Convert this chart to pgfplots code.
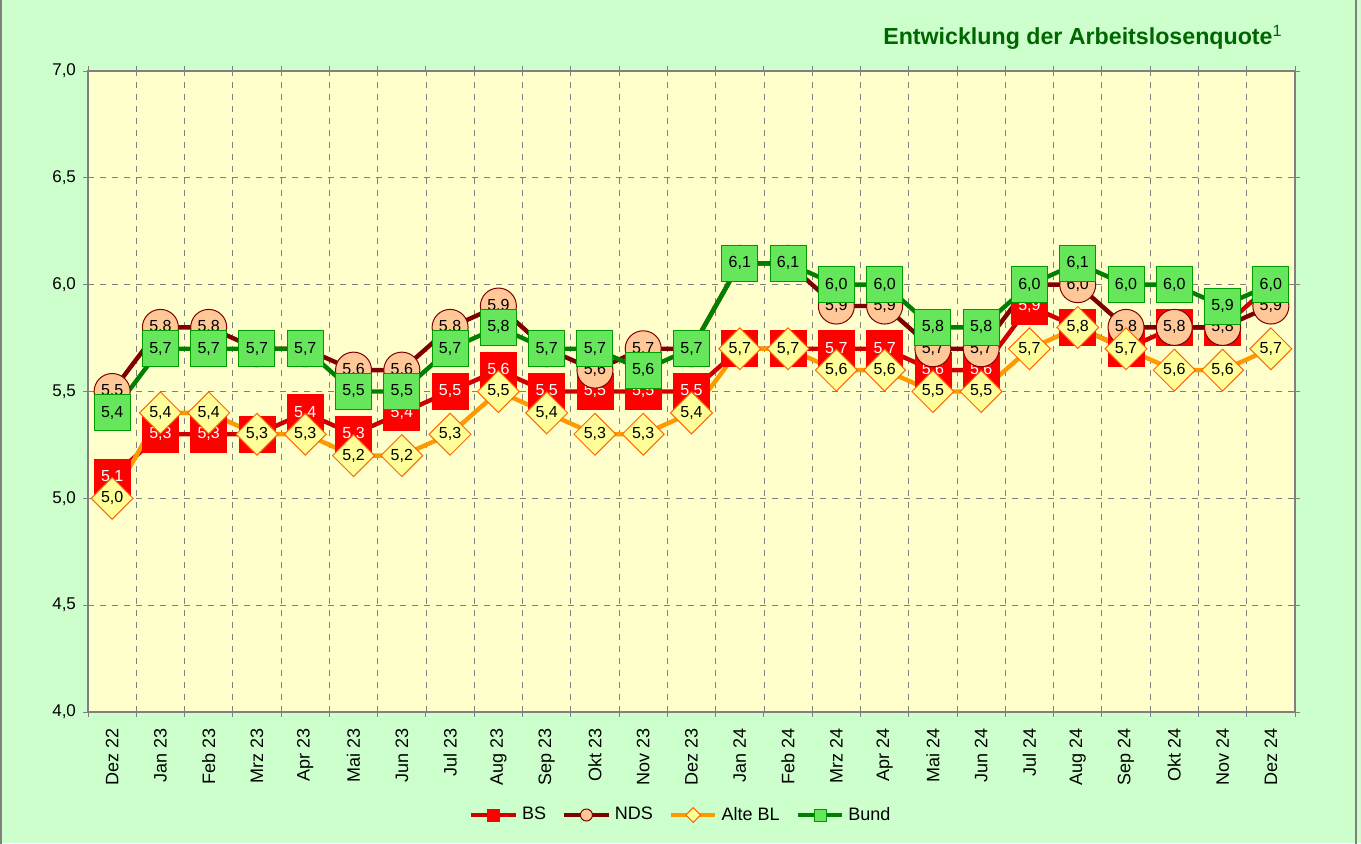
\documentclass[border=0pt]{standalone}
\usepackage{pgfplots}
\usepackage{pgfplotstable}
\pgfplotsset{compat=1.18}
\usepackage{fontspec}
\setmainfont{Liberation Sans}
\definecolor{bgout}{HTML}{CCFFCC}
\definecolor{bgplot}{HTML}{FFFFCC}
\definecolor{bsline}{HTML}{CC0000}
\definecolor{bsfill}{HTML}{FF0000}
\definecolor{ndsline}{HTML}{800000}
\definecolor{ndsfill}{HTML}{FFC896}
\definecolor{altline}{HTML}{FF9900}
\definecolor{altfill}{HTML}{FFFF99}
\definecolor{altedge}{HTML}{FF6600}
\definecolor{bundline}{HTML}{008000}
\definecolor{bundfill}{HTML}{66E65A}
\definecolor{bundedge}{HTML}{009900}
\definecolor{titlegreen}{HTML}{006600}
\definecolor{gridgray}{HTML}{808080}

\pgfplotstableread{
x bs nds alt bund
0 5.1 5.5 5.0 5.4
1 5.3 5.8 5.4 5.7
2 5.3 5.8 5.4 5.7
3 5.3 5.7 5.3 5.7
4 5.4 5.7 5.3 5.7
5 5.3 5.6 5.2 5.5
6 5.4 5.6 5.2 5.5
7 5.5 5.8 5.3 5.7
8 5.6 5.9 5.5 5.8
9 5.5 5.7 5.4 5.7
10 5.5 5.6 5.3 5.7
11 5.5 5.7 5.3 5.6
12 5.5 5.7 5.4 5.7
13 5.7 6.1 5.7 6.1
14 5.7 6.1 5.7 6.1
15 5.7 5.9 5.6 6.0
16 5.7 5.9 5.6 6.0
17 5.6 5.7 5.5 5.8
18 5.6 5.7 5.5 5.8
19 5.9 6.0 5.7 6.0
20 5.8 6.0 5.8 6.1
21 5.7 5.8 5.7 6.0
22 5.8 5.8 5.6 6.0
23 5.8 5.8 5.6 5.9
24 6.0 5.9 5.7 6.0
}\datatable

\begin{document}
\begin{tikzpicture}
\fill[bgout] (0,0) rectangle (680.5pt,421.5pt);
\draw[gridgray, line width=0.8pt] (0.6pt,-1pt) -- (0.6pt,423pt);
\draw[gridgray, line width=0.8pt] (678pt,-1pt) -- (678pt,423pt);
\begin{axis}[
  at={(44pt,65.5pt)}, anchor=south west,
  scale only axis, width=603.5pt, height=320.5pt,
  clip=false,
  xmin=-0.5, xmax=24.5, ymin=4, ymax=7,
  xtick={0,...,24},
  xticklabels={Dez 22,Jan 23,Feb 23,Mrz 23,Apr 23,Mai 23,Jun 23,Jul 23,Aug 23,Sep 23,Okt 23,Nov 23,Dez 23,Jan 24,Feb 24,Mrz 24,Apr 24,Mai 24,Jun 24,Jul 24,Aug 24,Sep 24,Okt 24,Nov 24,Dez 24},
  minor xtick={-0.5,0.5,...,24.5},
  ytick={4,4.5,...,7},
  ymajorgrids=true, xminorgrids=true,
  major grid style={dashed, gridgray, line width=0.4pt},
  minor grid style={dashed, gridgray, line width=0.4pt},
  tick align=outside,
  major x tick style={draw=none},
  minor tick length=2.5pt, major tick length=2.5pt,
  tick style={gridgray, line width=0.5pt},
  axis line style={draw=gridgray, line width=1.2pt},
  axis background/.style={fill=bgplot},
  xticklabel style={rotate=90, anchor=east, font=\fontsize{9}{10}\selectfont},
  yticklabel style={font=\fontsize{8.5}{10}\selectfont},
  xticklabel shift=2pt,
  /pgf/number format/.cd, use comma, fixed, fixed zerofill, precision=1, assume math mode=true,
  /pgfplots/.cd,
  legend style={at={(0.492,-0.1607)}, anchor=center, legend columns=-1, draw=none, fill=none,
    font=\fontsize{9}{10}\selectfont,
    /tikz/every even column/.append style={column sep=6pt}},
  legend image code/.code={\draw[mark repeat=2,mark phase=2,#1] plot coordinates {(0cm,0cm) (0.39cm,0cm) (0.78cm,0cm)};},
  nodes near coords align=center,
]
\addplot[color=bsline, line width=2.2pt, mark=square*, mark size=9pt,
  mark options={solid, fill=bsfill, draw=bsfill, line width=0.4pt},
  legend image post style={mark size=3pt},
  nodes near coords, every node near coord/.append style={font=\fontsize{8}{9}\selectfont, text=white, inner sep=0pt}]
  table[x=x, y=bs] {\datatable};
\addlegendentry{BS}
\addplot[color=ndsline, line width=2.2pt, mark=*, mark size=9pt,
  mark options={solid, fill=ndsfill, draw=ndsline, line width=0.5pt},
  legend image post style={mark size=3pt},
  nodes near coords, every node near coord/.append style={font=\fontsize{8}{9}\selectfont, text=black, inner sep=0pt}]
  table[x=x, y=nds] {\datatable};
\addlegendentry{NDS}
\addplot[color=altline, line width=2.2pt, mark=square*, mark size=7.4pt,
  mark options={solid, rotate=45, fill=altfill, draw=altedge, line width=0.5pt},
  legend image post style={mark size=2.6pt},
  nodes near coords, every node near coord/.append style={font=\fontsize{8}{9}\selectfont, text=black, inner sep=0pt}]
  table[x=x, y=alt] {\datatable};
\addlegendentry{Alte BL}
\addplot[color=bundline, line width=2.2pt, mark=square*, mark size=9pt,
  mark options={solid, fill=bundfill, draw=bundedge, line width=0.5pt},
  legend image post style={mark size=3pt},
  nodes near coords, every node near coord/.append style={font=\fontsize{8}{9}\selectfont, text=black, inner sep=0pt}]
  table[x=x, y=bund] {\datatable};
\addlegendentry{Bund}
\end{axis}
\node[anchor=base east, inner sep=0pt, text=titlegreen, font=\fontsize{11.6}{13}\selectfont\bfseries]
  at (641.5pt,399pt) {Entwicklung der Arbeitslosenquote\textsuperscript{\mdseries 1}};
\pgfresetboundingbox
\useasboundingbox (0,0) rectangle (680.5pt,421.5pt);
\end{tikzpicture}
\end{document}
